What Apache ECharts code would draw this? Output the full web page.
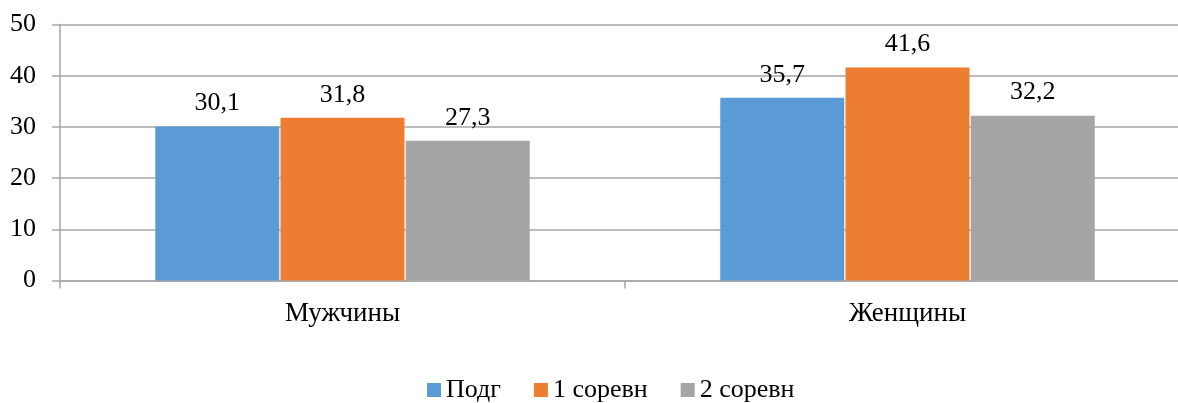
<!DOCTYPE html>
<html>
<head>
<meta charset="utf-8">
<script src="https://cdn.jsdelivr.net/npm/echarts@6/dist/echarts.min.js"></script>
<style>
  html, body { margin: 0; padding: 0; background: #fff; }
  #main { width: 1178px; height: 403px; }
</style>
</head>
<body>
<div id="main"></div>
<script>
// данные диаграммы
const categories = ['Мужчины', 'Женщины']
const seriesNames = ['Подг', '1 соревн', '2 соревн']
const podg = [30.1, 35.7]
const sorevn1 = [31.8, 41.6]
const sorevn2 = [27.3, 32.2]
const yTicks = [0, 10, 20, 30, 40, 50]

const colors = ['#5B9BD5', '#ED7D31', '#A5A5A5']
const font = 'Liberation Serif, Times New Roman, serif'

const myChart = echarts.init(document.getElementById('main'))

function makeSeries(name, data, i) {
  return {
    name: name,
    type: 'bar',
    data: data,
    barWidth: 124,
    barGap: '1%',
    itemStyle: { color: colors[i] },
    label: {
      show: true,
      position: 'top',
      distance: 10,
      color: '#000',
      fontFamily: font,
      fontSize: 26,
      formatter: p => String(p.value).replace('.', ',')
    }
  }
}

const option = {
  animation: false,
  textStyle: { fontFamily: font },
  grid: {
    left: 60,
    top: 24.5,
    width: 1130,
    height: 256,
    outerBoundsMode: 'none'
  },
  legend: {
    data: seriesNames,
    bottom: -5,
    left: 422,
    itemWidth: 14,
    itemHeight: 14,
    itemGap: 33,
    icon: 'rect',
    textStyle: { fontFamily: font, fontSize: 26, color: '#000' }
  },
  xAxis: {
    type: 'category',
    data: categories,
    axisLine: { lineStyle: { color: '#a6a6a6', width: 1.5 } },
    axisTick: { show: true, length: 8, lineStyle: { color: '#a6a6a6', width: 1.5 } },
    axisLabel: { color: '#000', fontFamily: font, fontSize: 27, margin: 20 }
  },
  yAxis: {
    type: 'value',
    min: yTicks[0],
    max: yTicks[yTicks.length - 1],
    interval: 10,
    axisLine: { show: true, lineStyle: { color: '#a6a6a6', width: 1.5 } },
    axisTick: { show: true, length: 8, lineStyle: { color: '#a6a6a6', width: 1.5 } },
    axisLabel: { color: '#000', fontFamily: font, fontSize: 26, margin: 24 },
    splitLine: { lineStyle: { color: '#a6a6a6', width: 1.5 } }
  },
  series: [
    makeSeries(seriesNames[0], podg, 0),
    makeSeries(seriesNames[1], sorevn1, 1),
    makeSeries(seriesNames[2], sorevn2, 2)
  ]
}

myChart.setOption(option)
</script>
</body>
</html>
